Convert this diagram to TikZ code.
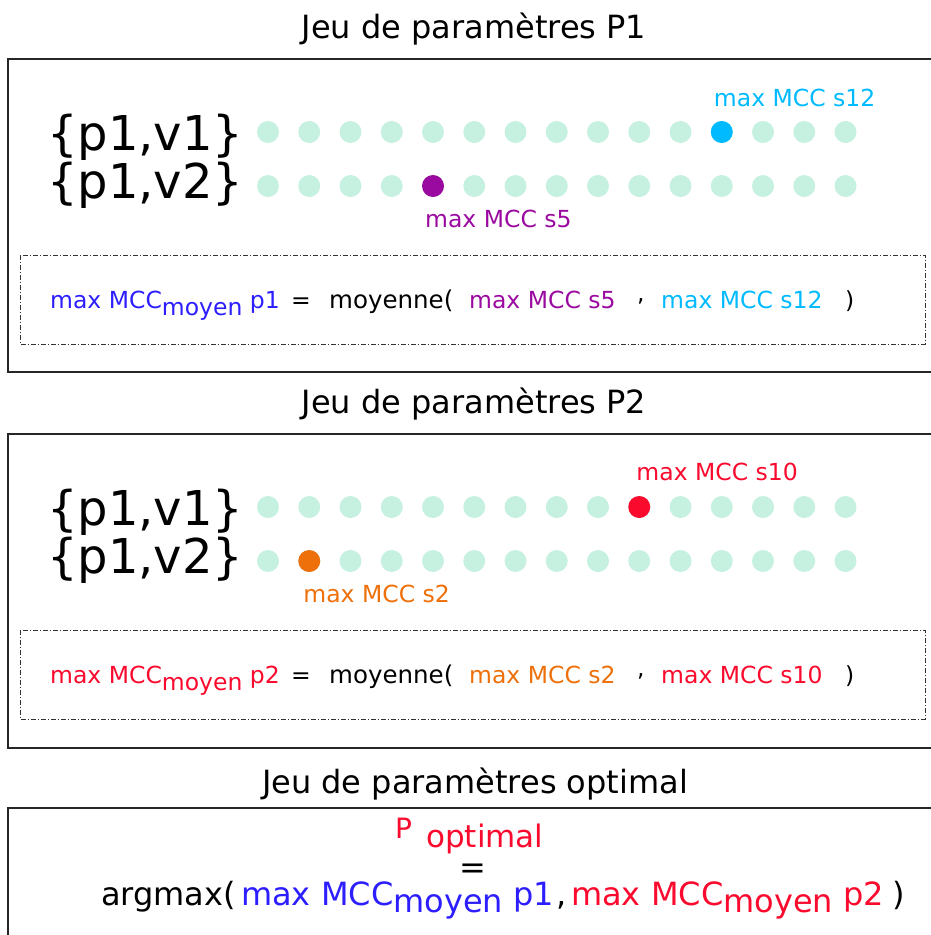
\documentclass[tikz,border=0pt]{standalone}
\usepackage{fontspec}
\setmainfont{DejaVu Sans}
\usetikzlibrary{positioning,calc}

\definecolor{menthe}{RGB}{198,240,224}
\definecolor{cyanmax}{RGB}{0,186,255}
\definecolor{violetmax}{RGB}{155,10,160}
\definecolor{rougemax}{RGB}{250,10,45}
\definecolor{orangemax}{RGB}{238,112,10}
\definecolor{bleumoy}{RGB}{45,30,255}

\tikzset{
  titre/.style={font=\fontsize{32}{38}\selectfont, anchor=base, inner sep=0},
  ens/.style={font=\fontsize{48}{56}\selectfont, anchor=base west, inner sep=0},
  pastille/.style={circle, fill=menthe, minimum size=22pt, inner sep=0},
  lbl/.style={font=\fontsize{23.5}{28}\selectfont, anchor=base west, inner sep=0},
  grand/.style={font=\fontsize{32}{38}\selectfont, anchor=base west, inner sep=0},
  cadre/.style={draw=black!85, line width=2pt},
  tiret/.style={draw=black!80, line width=0.8pt, dash pattern=on 5pt off 2pt on 1pt off 2pt}
}

\begin{document}
\begin{tikzpicture}[x=1pt,y=-1pt]
  \useasboundingbox (0,0) rectangle (931,935);
  \clip (0,0) rectangle (931,935);
  % Titles
  \node[titre] (t1) at (474,38) {Jeu de paramètres P1};
  \node[titre] (t2) at (474,413) {Jeu de paramètres P2};
  \node[titre] (t3) at (475,793) {Jeu de paramètres optimal};
  % Frames
  \draw[cadre] (8,59) rectangle (945,372);
  \draw[cadre] (8,434) rectangle (945,748);
  \draw[cadre] (8,808) rectangle (945,950);
  \draw[tiret] (20,255) rectangle (925,344);
  \draw[tiret] (20,630) rectangle (925,719);

  % Jeu P1
  \node[ens] (e11) at (47,150) {\{p1,v1\}};
  \node[ens] (e12) at (47,198) {\{p1,v2\}};
  \foreach \i in {1,...,15} {
    \node[pastille] (a\i) at ({268+41.25*(\i-1)},132) {};
    \node[pastille] (b\i) at ({268+41.25*(\i-1)},186) {};
  }
  \node[pastille, fill=cyanmax] (s12) at (a12) {};
  \node[pastille, fill=violetmax] (s5) at (b5) {};
  \node[lbl, text=cyanmax] (l12) at ([xshift=-8pt,yshift=26pt]s12.center) {max MCC s12};
  \node[lbl, text=violetmax] (l5) at ([xshift=-8pt,yshift=-41pt]s5.center) {max MCC s5};
  % Moyenne P1
  \node[lbl, text=bleumoy] (m1) at (50,308) {max MCC\raisebox{-7pt}{moyen} p1};
  \node[lbl] (eg1) at (291,308) {=};
  \node[lbl, font=\fontsize{24.5}{29}\selectfont] (moy1) at (329,308) {moyenne(};
  \node[lbl, text=violetmax] (f5) at (469,308) {max MCC s5};
  \node[lbl] (vg1) at (637,301) {,};
  \node[lbl, text=cyanmax] (f12) at (661,308) {max MCC s12};
  \node[lbl] (pf1) at (845,308) {)};

  % Jeu P2
  \node[ens] (e21) at (47,525) {\{p1,v1\}};
  \node[ens] (e22) at (47,573) {\{p1,v2\}};
  \foreach \i in {1,...,15} {
    \node[pastille] (c\i) at ({268+41.25*(\i-1)},507) {};
    \node[pastille] (d\i) at ({268+41.25*(\i-1)},561) {};
  }
  \node[pastille, fill=rougemax] (s10) at (c10) {};
  \node[pastille, fill=orangemax] (s2) at (d2) {};
  \node[lbl, text=rougemax] (l10) at ([xshift=-3pt,yshift=27pt]s10.center) {max MCC s10};
  \node[lbl, text=orangemax] (l2) at ([xshift=-6pt,yshift=-41pt]s2.center) {max MCC s2};
  % Moyenne P2
  \node[lbl, text=rougemax] (m2) at (50,683) {max MCC\raisebox{-7pt}{moyen} p2};
  \node[lbl] (eg2) at (291,683) {=};
  \node[lbl, font=\fontsize{24.5}{29}\selectfont] (moy2) at (329,683) {moyenne(};
  \node[lbl, text=orangemax] (f2) at (469,683) {max MCC s2};
  \node[lbl] (vg2) at (637,676) {,};
  \node[lbl, text=rougemax] (f10) at (661,683) {max MCC s10};
  \node[lbl] (pf2) at (845,683) {)};

  % Optimal
  \node[lbl, text=rougemax, font=\fontsize{28}{32}\selectfont] (P) at (395,838) {P};
  \node[grand, text=rougemax, font=\fontsize{31}{36}\selectfont] (opt) at (426,847) {optimal};
  \node[grand, anchor=base] (eg) at (473,878) {=};
  \node[grand] (am) at (101,905) {argmax(};
  \node[grand, text=bleumoy] (o1) at (241,905) {max MCC\raisebox{-7pt}{moyen} p1};
  \node[grand] (vg) at (556,905) {,};
  \node[grand, text=rougemax] (o2) at (571,905) {max MCC\raisebox{-7pt}{moyen} p2};
  \node[grand] (pf) at (892,905) {)};
\end{tikzpicture}
\end{document}
